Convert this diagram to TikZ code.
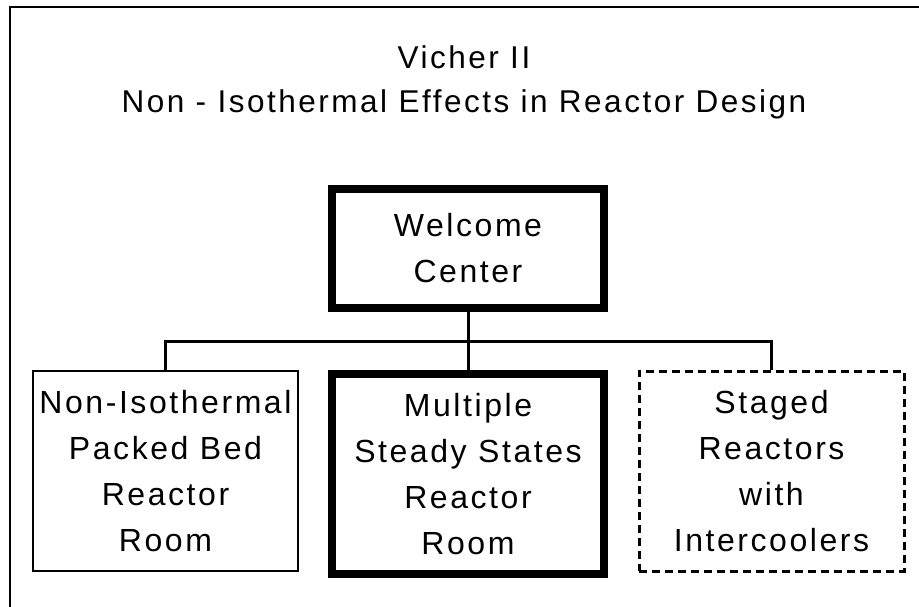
\documentclass[tikz,border=0pt]{standalone}
\usepackage{fontspec}
\setmainfont{Liberation Sans}[LetterSpace=8]
\usepackage{tikz}
\usetikzlibrary{positioning}

\begin{document}
\begin{tikzpicture}[x=1pt, y=-1pt,
    room/.style={draw, line width=2.5pt, align=center, minimum width=265pt, minimum height=200pt, font=\fontsize{32}{46}\selectfont},
    mainroom/.style={room, line width=8pt, minimum width=272pt},
    future/.style={room, line width=3pt, dash pattern=on 8pt off 5pt},
    link/.style={line width=3pt}
  ]
    \useasboundingbox (0,0) rectangle (919,607);
    \draw[line width=2.5pt] (10,7) rectangle (940,630);

    \node[align=center, font=\fontsize{31.5}{44}\selectfont] (title) at (464,82) {Vicher II\\Non - Isothermal Effects in Reactor Design};

    \node[mainroom, minimum height=119pt] (welcome) at (468,248.5) {Welcome\\Center};
    \node[room] (packed) at (165.5,471) {Non-Isothermal\\Packed Bed\\Reactor\\Room};
    \node[mainroom] (steady) at (468,474) {Multiple\\Steady States\\Reactor\\Room};
    \node[future] (staged) at (771.5,471) {Staged\\Reactors\\with\\Intercoolers};

    \coordinate (bus) at (468,341);
    \draw[link] (welcome.south) -- (steady.north);
    \draw[link] (packed.north) |- (bus) -| (staged.north);
  \end{tikzpicture}
\end{document}
